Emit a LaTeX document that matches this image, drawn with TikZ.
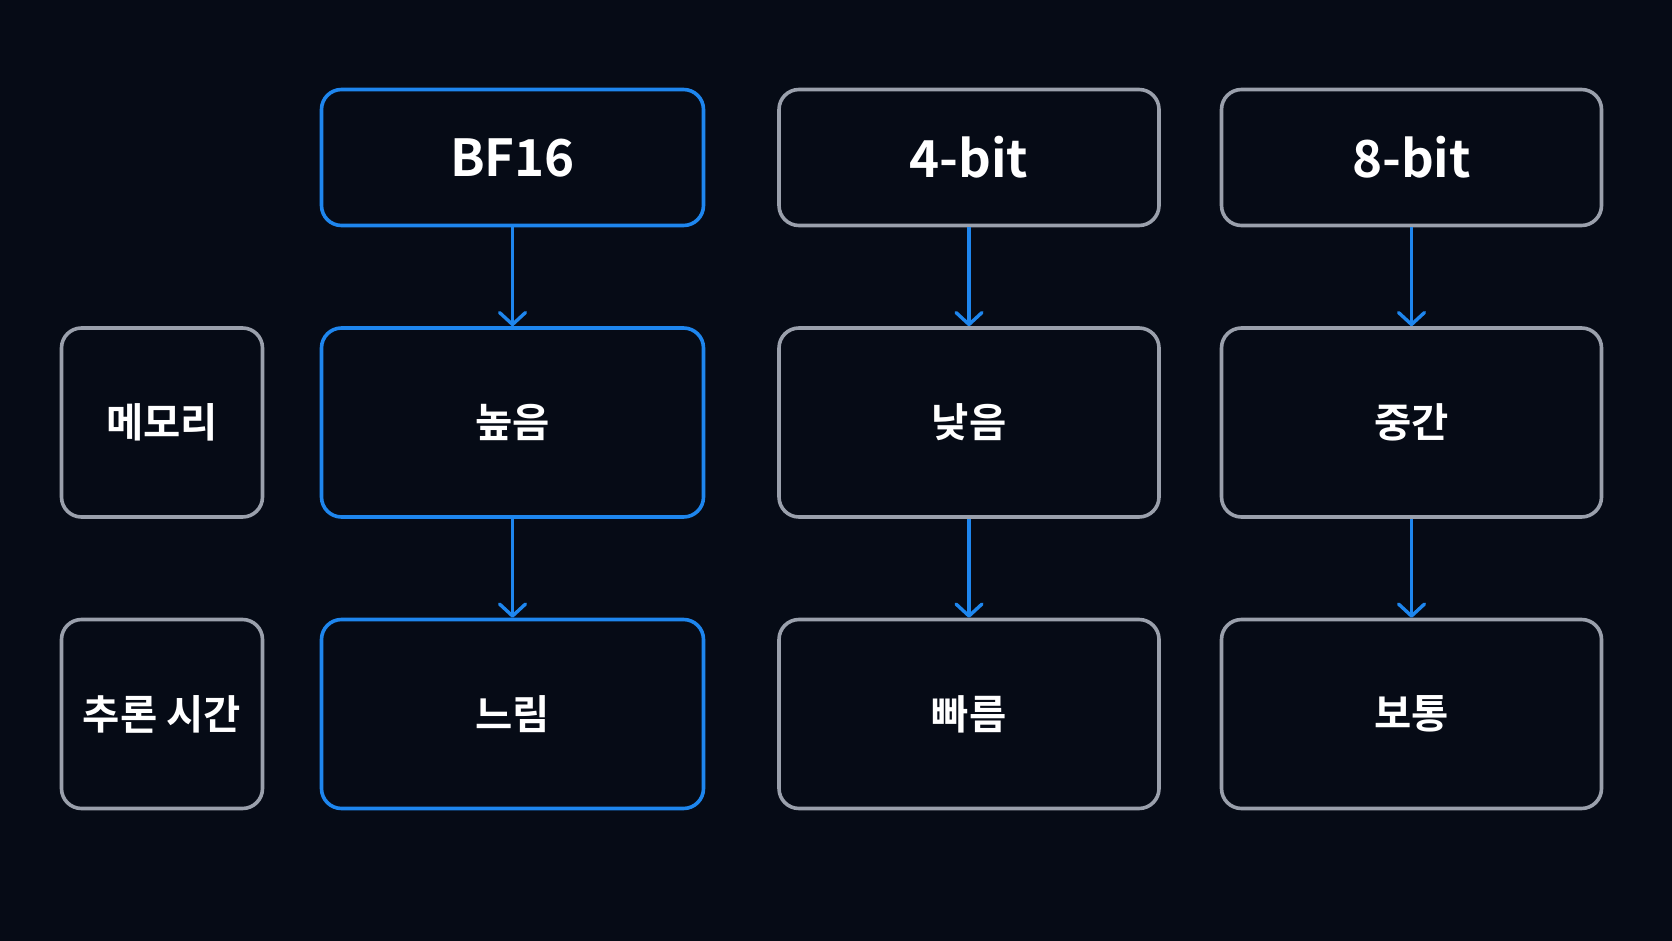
\documentclass[tikz,border=0pt]{standalone}
\usepackage{fontspec}
\setmainfont{Noto Sans CJK KR}[BoldFont={Noto Sans CJK KR Bold}]
\usetikzlibrary{arrows.meta}
\definecolor{bgdark}{HTML}{060B16}
\definecolor{accent}{HTML}{1E86EE}
\definecolor{frame}{HTML}{9AA0AC}
\tikzset{
  cell/.style={draw=frame, line width=3.6pt, rounded corners=20pt, fill=bgdark,
    text=white, font=\bfseries\fontsize{40.5}{44}\selectfont, inner sep=0pt},
  hot/.style={draw=accent},
  head/.style={font=\bfseries\fontsize{51}{55}\selectfont},
  flow/.style={draw=accent, line width=3.4pt,
    -{Straight Barb[length=12pt,width=26pt,line width=3.4pt,round]}}
}
\begin{document}
\begin{tikzpicture}[x=1pt,y=-1pt]
  \fill[bgdark] (0,0) rectangle (1672,941);
  \useasboundingbox (0,0) rectangle (1672,941);

  % format headers
  \node[cell,hot,head,minimum width=382pt,minimum height=136pt] (bf) at (512.5,157.5) {BF16};
  \node[cell,head,minimum width=380pt,minimum height=136pt] (q4) at (969,157.5) {4-bit};
  \node[cell,head,minimum width=380pt,minimum height=136pt] (q8) at (1411.5,157.5) {8-bit};

  % row labels
  \node[cell,minimum width=201pt,minimum height=189pt] (mem) at (162,422.5) {메모리};
  \node[cell,minimum width=201pt,minimum height=189pt] (time) at (162,714) {추론 시간};

  % memory row
  \node[cell,hot,minimum width=382pt,minimum height=189pt] (bfmem) at (512.5,422.5) {높음};
  \node[cell,minimum width=380pt,minimum height=189pt] (q4mem) at (969,422.5) {낮음};
  \node[cell,minimum width=380pt,minimum height=189pt] (q8mem) at (1411.5,422.5) {중간};

  % inference-time row
  \node[cell,hot,minimum width=382pt,minimum height=189pt] (bftime) at (512.5,714) {느림};
  \node[cell,minimum width=380pt,minimum height=189pt] (q4time) at (969,714) {빠름};
  \node[cell,minimum width=380pt,minimum height=189pt] (q8time) at (1411.5,714) {보통};

  % connectors
  \draw[flow] (bf.south) -- (bfmem.north);
  \draw[flow] (q4.south) -- (q4mem.north);
  \draw[flow] (q8.south) -- (q8mem.north);
  \draw[flow] (bfmem.south) -- (bftime.north);
  \draw[flow] (q4mem.south) -- (q4time.north);
  \draw[flow] (q8mem.south) -- (q8time.north);
\end{tikzpicture}
\end{document}
